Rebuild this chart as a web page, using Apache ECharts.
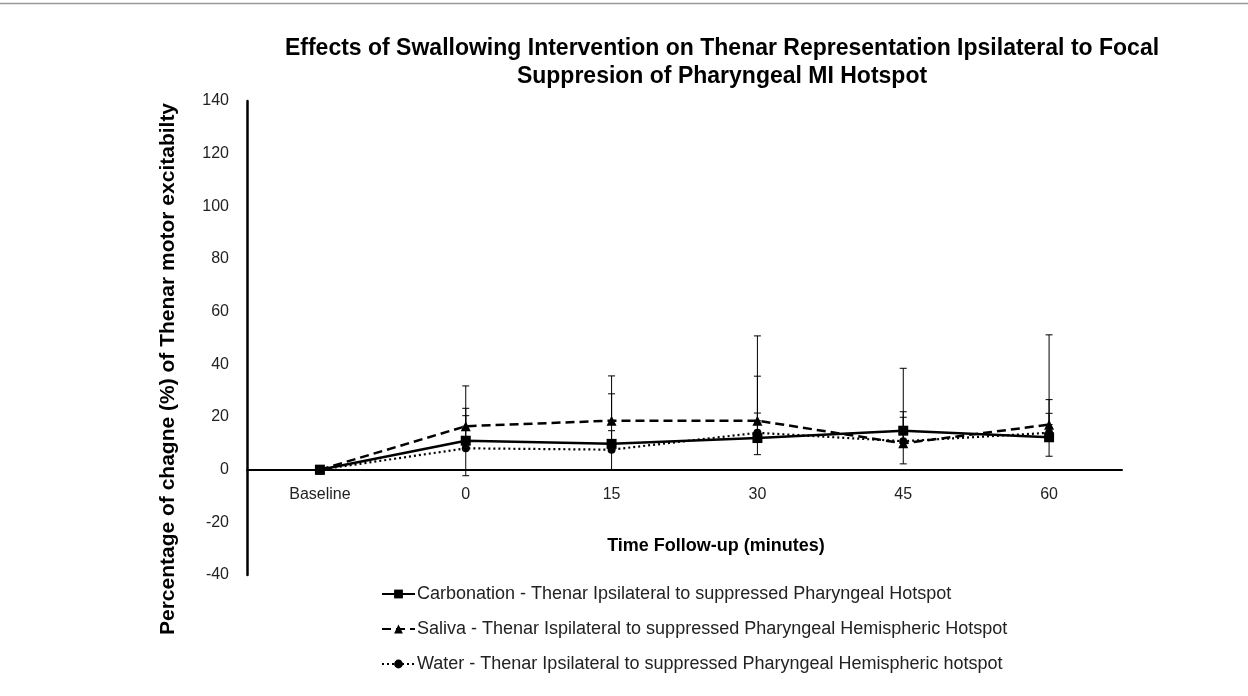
<!DOCTYPE html>
<html>
<head>
<meta charset="utf-8">
<script src="https://cdn.jsdelivr.net/npm/echarts@6/dist/echarts.min.js"></script>
<style>
html,body{margin:0;padding:0;background:#fff;}
#chart{width:1248px;height:696px;}
</style>
</head>
<body>
<div id="chart"></div>
<script>
// ---- data ----
var categories = ['Baseline', '0', '15', '30', '45', '60'];
var yTicks = [-40, -20, 0, 20, 40, 60, 80, 100, 120, 140];

var carbonation = [0, 11.0, 9.8, 12.0, 14.8, 12.3];
var saliva      = [0, 16.5, 18.6, 18.6, 10.0, 17.1];
var water       = [0, 8.1, 7.6, 14.0, 10.8, 14.0];

// error bar bounds (absolute values); null = no bar
var carbonationLow  = [null, -2.3, 0.0, 5.7, 2.2, 5.1];
var carbonationHigh = [null, 23.3, 28.8, 35.5, 38.5, 26.6];
var salivaLow       = [null, 16.5, 18.6, 18.6, 10.0, 17.1];
var salivaHigh      = [null, 31.8, 35.6, 50.8, 22.0, 51.2];
var waterLow        = [null, 8.1, 7.6, 14.0, 10.8, 14.0];
var waterHigh       = [null, 20.5, 14.8, 21.5, 19.9, 21.4];

var names = [
  'Carbonation - Thenar Ipsilateral to suppressed Pharyngeal Hotspot',
  'Saliva - Thenar Ispilateral to suppressed Pharyngeal Hemispheric Hotspot',
  'Water - Thenar Ipsilateral to suppressed Pharyngeal Hemispheric hotspot'
];
var titleLine1 = 'Effects of Swallowing Intervention on Thenar Representation Ipsilateral to Focal';
var titleLine2 = 'Suppresion of Pharyngeal MI Hotspot';
var xTitle = 'Time Follow-up (minutes)';
var yTitle = 'Percentage of chagne (%) of Thenar motor excitabilty';

// ---- chart ----
var chart = echarts.init(document.getElementById('chart'), null, {renderer: 'canvas'});

function errData(low, high) {
  var out = [];
  for (var i = 0; i < low.length; i++) {
    if (low[i] !== null) out.push([i, low[i], high[i]]);
  }
  return out;
}
function errSeries(low, high) {
  return {
    type: 'custom',
    data: errData(low, high),
    z: 5,
    silent: true,
    renderItem: function (params, api) {
      var x = api.value(0);
      var lo = api.coord([x, api.value(1)]);
      var hi = api.coord([x, api.value(2)]);
      var w = 3.5;
      var st = {stroke: '#000', lineWidth: 1};
      return {
        type: 'group',
        children: [
          {type: 'line', shape: {x1: lo[0], y1: lo[1], x2: hi[0], y2: hi[1]}, style: st},
          {type: 'line', shape: {x1: hi[0] - w, y1: hi[1], x2: hi[0] + w, y2: hi[1]}, style: st},
          {type: 'line', shape: {x1: lo[0] - w, y1: lo[1], x2: lo[0] + w, y2: lo[1]}, style: st}
        ]
      };
    }
  };
}

var sans = "'Liberation Sans', Arial, sans-serif";
var gridTop = 101, gridBottom = 121, plotH = 696 - gridTop - gridBottom;
// x axis sits on y = 0 : offset it up from the bottom of the grid
var zeroOffset = -plotH * 40 / 180;

var option = {
  animation: false,
  backgroundColor: '#fff',
  grid: {left: 247, right: 126, top: gridTop, bottom: gridBottom, containLabel: false},
  xAxis: {
    type: 'category',
    data: categories,
    boundaryGap: true,
    position: 'bottom',
    offset: zeroOffset,
    axisLine: {onZero: false, lineStyle: {color: '#000', width: 2}},
    axisTick: {show: false},
    axisLabel: {color: '#222', fontSize: 16, fontFamily: sans, margin: 17}
  },
  yAxis: {
    type: 'value',
    min: -40, max: 140, interval: 20,
    axisLine: {show: true, lineStyle: {color: '#000', width: 2.5}},
    axisTick: {show: false},
    splitLine: {show: false},
    axisLabel: {color: '#222', fontSize: 16, fontFamily: sans, margin: 18,
      formatter: function (v) { return yTicks.indexOf(v) >= 0 ? String(v) : ''; }}
  },
  legend: {
    orient: 'vertical',
    left: 376,
    top: 580,
    itemWidth: 33,
    itemHeight: 11,
    itemGap: 17,
    data: names,
    textStyle: {color: '#222', fontSize: 18, fontFamily: sans, padding: [0, 0, 0, -3]}
  },
  graphic: [
    {type: 'line', shape: {x1: 0, y1: 3.5, x2: 1248, y2: 3.5}, style: {stroke: '#999', lineWidth: 1.5}},
    {type: 'text', x: 722, y: 49, style: {text: titleLine1, textAlign: 'center', textVerticalAlign: 'middle', font: "bold 23px 'Liberation Sans', Arial, sans-serif", fill: '#000'}},
    {type: 'text', x: 722, y: 77, style: {text: titleLine2, textAlign: 'center', textVerticalAlign: 'middle', font: "bold 23px 'Liberation Sans', Arial, sans-serif", fill: '#000'}},
    {type: 'text', x: 716, y: 546, style: {text: xTitle, textAlign: 'center', textVerticalAlign: 'middle', font: "bold 18px 'Liberation Sans', Arial, sans-serif", fill: '#000'}},
    {type: 'text', x: 168, y: 369, rotation: Math.PI / 2, style: {text: yTitle, textAlign: 'center', textVerticalAlign: 'middle', font: "bold 21px 'Liberation Sans', Arial, sans-serif", fill: '#000'}}
  ],
  series: [
    {
      name: names[0], type: 'line', data: carbonation, z: 4,
      symbol: 'rect', symbolSize: 10,
      lineStyle: {color: '#000', width: 2.5, type: 'solid'},
      itemStyle: {color: '#000'}
    },
    {
      name: names[1], type: 'line', data: saliva, z: 3,
      symbol: 'triangle', symbolSize: 10,
      lineStyle: {color: '#000', width: 2.5, type: [9, 5]},
      itemStyle: {color: '#000'}
    },
    {
      name: names[2], type: 'line', data: water, z: 3,
      symbol: 'circle', symbolSize: 8,
      lineStyle: {color: '#000', width: 2.2, type: [2, 3]},
      itemStyle: {color: '#000'}
    },
    errSeries(carbonationLow, carbonationHigh),
    errSeries(salivaLow, salivaHigh),
    errSeries(waterLow, waterHigh)
  ]
};
chart.setOption(option);
</script>
</body>
</html>
